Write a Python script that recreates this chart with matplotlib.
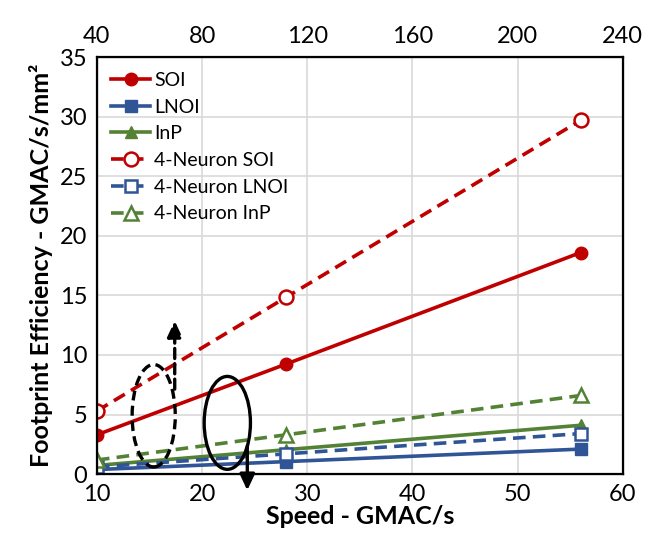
import matplotlib
matplotlib.use("Agg")
import matplotlib.pyplot as plt
from matplotlib.patches import Ellipse

plt.rcParams['font.family'] = ['Lato', 'DejaVu Sans']

speed = [10, 28, 56]
soi = [3.3, 9.24, 18.6]
lnoi = [0.38, 1.05, 2.1]
inp = [0.73, 2.05, 4.1]
soi_4n = [5.3, 14.85, 29.7]
lnoi_4n = [0.6, 1.7, 3.4]
inp_4n = [1.18, 3.3, 6.6]

x_ticks = [10, 20, 30, 40, 50, 60]
top_ticks = [40, 80, 120, 160, 200, 240]
y_ticks = [0, 5, 10, 15, 20, 25, 30, 35]

red = '#C00000'
blue = '#2F5597'
green = '#548235'

fig = plt.figure(figsize=(6.46, 5.50), dpi=100)
ax = fig.add_axes([0.150, 0.138, 0.814, 0.758])

lw = 2.6
ms = 9
ax.plot(speed, soi, '-', color=red, lw=lw, marker='o', ms=ms, label='SOI')
ax.plot(speed, lnoi, '-', color=blue, lw=lw, marker='s', ms=ms, label='LNOI')
ax.plot(speed, inp, '-', color=green, lw=lw, marker='^', ms=ms, label='InP')
ax.plot(speed, soi_4n, '--', color=red, lw=lw, marker='o', ms=ms + 1, mfc='white',
        mew=1.8, dashes=(3.5, 2), label='4-Neuron SOI')
ax.plot(speed, lnoi_4n, '--', color=blue, lw=lw, marker='s', ms=ms, mfc='white',
        mew=1.8, dashes=(3.5, 2), label='4-Neuron LNOI')
ax.plot(speed, inp_4n, '--', color=green, lw=lw, marker='^', ms=ms + 1, mfc='white',
        mew=1.8, dashes=(3.5, 2), label='4-Neuron InP')

ax.set_xlim(10, 60)
ax.set_ylim(0, 35)
ax.set_xticks(x_ticks)
ax.set_yticks(y_ticks)
ax.grid(True, color='#D9D9D9', lw=1.2)
ax.set_axisbelow(True)
for s in ax.spines.values():
    s.set_linewidth(1.6)
ax.tick_params(labelsize=17, length=0, pad=7)

ax.set_xlabel('Speed - GMAC/s', fontsize=18, fontweight='bold', labelpad=0)
ax.set_ylabel('Footprint Efficiency - GMAC/s/mm²', fontsize=18,
              fontweight='bold', labelpad=5)

ax2 = ax.twiny()
ax2.set_xlim(40, 240)
ax2.set_xticks(top_ticks)
ax2.tick_params(labelsize=17, length=0, pad=7)

# grouping marks: dashed ellipse for 4-neuron, solid for single neuron
head = '-|>,head_width=0.28,head_length=0.6'
ax.add_patch(Ellipse((15.4, 4.9), 4.1, 8.6, fill=False, ec='black', lw=2.4,
                     ls=(0, (3, 1.6)), zorder=5))
ax.annotate('', xy=(17.4, 13.1), xytext=(17.4, 6.9),
            arrowprops=dict(arrowstyle=head, lw=2.4, ls=(0, (3, 1.6)),
                            color='black', mutation_scale=16), zorder=5)
ax.add_patch(Ellipse((22.4, 4.3), 4.4, 7.8, fill=False, ec='black', lw=2.4,
                     zorder=5))
ax.annotate('', xy=(24.3, -1.6), xytext=(24.3, 2.6),
            arrowprops=dict(arrowstyle=head, lw=2.4, color='black',
                            mutation_scale=16),
            annotation_clip=False, zorder=5)

leg = ax.legend(loc='upper left', bbox_to_anchor=(0.0, 1.0), frameon=False,
                fontsize=14, handlelength=2.0, handletextpad=0.2,
                labelspacing=0.5, borderaxespad=0.35)

fig.savefig('out.png', dpi=100)
